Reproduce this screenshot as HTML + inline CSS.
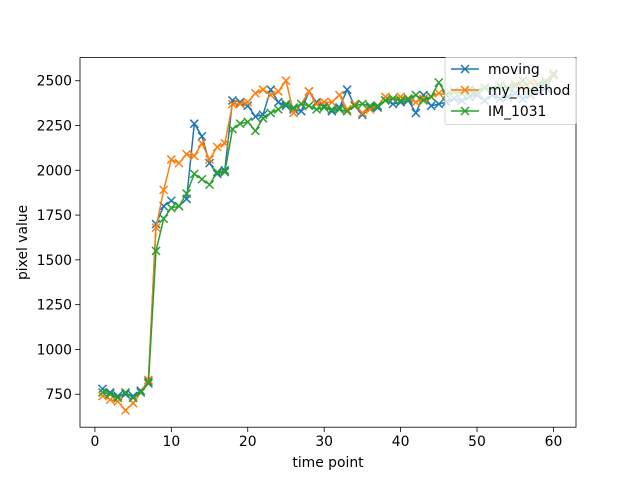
<!DOCTYPE html>
<html><head><meta charset="utf-8"><style>
body{margin:0;background:#fff;}
svg{display:block;font-family:"DejaVu Sans","Liberation Sans",sans-serif;}
</style></head><body>
<svg id="chart" width="640" height="480" viewBox="0 0 640 480">
<rect width="640" height="480" fill="#fff"/>
<g id="plot"></g>
<g id="axes"></g>
<g id="legend"></g>
</svg>
<script>
const timePoints = Array.from({length:60},(_, i)=>i+1);
const movingValues = [780,760,740,750,740,770,820,1700,1800,1830,1800,1840,2260,2190,2040,1980,2000,2390,2380,2360,2300,2310,2450,2380,2360,2340,2330,2440,2380,2360,2330,2350,2450,2360,2310,2350,2350,2390,2370,2380,2390,2320,2420,2360,2370,2380,2400,2390,2410,2420,2390,2420,2400,2410,2430,2400,2420,2440,2460,2530];
const myMethodValues = [740,720,710,660,700,760,830,1680,1890,2060,2040,2090,2080,2150,2060,2130,2150,2370,2370,2380,2430,2450,2420,2440,2500,2320,2370,2440,2370,2380,2380,2420,2340,2370,2320,2340,2360,2410,2400,2410,2400,2380,2400,2410,2430,2420,2440,2430,2450,2440,2460,2450,2470,2460,2480,2470,2490,2480,2500,2530];
const imValues = [760,750,730,760,730,760,810,1550,1730,1790,1800,1870,1980,1950,1920,1990,1990,2230,2260,2270,2220,2290,2320,2340,2370,2350,2370,2360,2340,2350,2340,2340,2330,2360,2370,2360,2360,2390,2400,2390,2400,2420,2390,2410,2490,2420,2440,2430,2450,2440,2460,2450,2470,2460,2470,2500,2450,2480,2490,2540];
const xTicks = [0,10,20,30,40,50,60];
const yTicks = [750,1000,1250,1500,1750,2000,2250,2500];
const seriesNames = ["moving","my_method","IM_1031"];

const L=80,R=576,T=57.6,B=427.2;
const xMin=-1.95,xMax=62.95,yMin=566,yMax=2629;
const sx=v=>L+(v-xMin)/(xMax-xMin)*(R-L);
const sy=v=>B-(v-yMin)/(yMax-yMin)*(B-T);
const NS="http://www.w3.org/2000/svg";
const FS=13.9;
function mk(tag,attrs,parent){const e=document.createElementNS(NS,tag);for(const k in attrs)e.setAttribute(k,attrs[k]);parent.appendChild(e);return e;}
const plot=document.getElementById('plot'),axes=document.getElementById('axes'),leg=document.getElementById('legend');
const series=[[movingValues,'#1f77b4'],[myMethodValues,'#ff7f0e'],[imValues,'#2ca02c']];
function xmark(g,x,y,c){const s=4;mk('path',{d:`M${x-s},${y-s}L${x+s},${y+s}M${x-s},${y+s}L${x+s},${y-s}`,stroke:c,'stroke-width':1.5,fill:'none'},g);}
series.forEach(([vals,c],si)=>{
  const g=mk('g',{},plot);
  
  
  const d=vals.map((v,i)=>(i?'L':'M')+sx(timePoints[i]).toFixed(1)+','+sy(v).toFixed(1)).join('');
  mk('path',{d,stroke:c,'stroke-width':1.5,fill:'none','stroke-linejoin':'round'},g);
  vals.forEach((v,i)=>xmark(g,sx(timePoints[i]),sy(v),c));
});
const frame=mk('rect',{x:L,y:T,width:R-L,height:B-T,fill:'none',stroke:'#000','stroke-width':0.8},axes);


xTicks.forEach(t=>{const x=sx(t);mk('line',{x1:x,x2:x,y1:B,y2:B+4.9,stroke:'#000','stroke-width':0.8},axes);
 const tx=mk('text',{x:x,y:B+19,'font-size':FS,'text-anchor':'middle',fill:'#000'},axes);tx.textContent=t;
 
 });
yTicks.forEach(t=>{const y=sy(t);mk('line',{x1:L-4.9,x2:L,y1:y,y2:y,stroke:'#000','stroke-width':0.8},axes);
 const tx=mk('text',{x:L-8,y:y+5,'font-size':FS,'text-anchor':'end',fill:'#000'},axes);tx.textContent=t;
 
 });
const xt=mk('text',{x:(L+R)/2,y:467,'font-size':FS,'text-anchor':'middle'},axes);xt.textContent='time point';


const yt=mk('text',{x:27,y:(T+B)/2,'font-size':FS,'text-anchor':'middle',transform:`rotate(-90 27 ${(T+B)/2})`},axes);yt.textContent='pixel value';


const lb=mk('rect',{x:445,y:57.5,width:131,height:67,rx:2,fill:'#fff','fill-opacity':0.8,stroke:'#ccc','stroke-width':0.8},leg);


series.forEach(([v,c],i)=>{const y=69+i*21;const g=mk('g',{},leg);
 
 
 mk('line',{x1:451,x2:479,y1:y,y2:y,stroke:c,'stroke-width':1.5},g);xmark(g,465,y,c);
 const t=mk('text',{x:488,y:y+5,'font-size':FS},g);t.textContent=seriesNames[i];});
</script>
</body></html>
